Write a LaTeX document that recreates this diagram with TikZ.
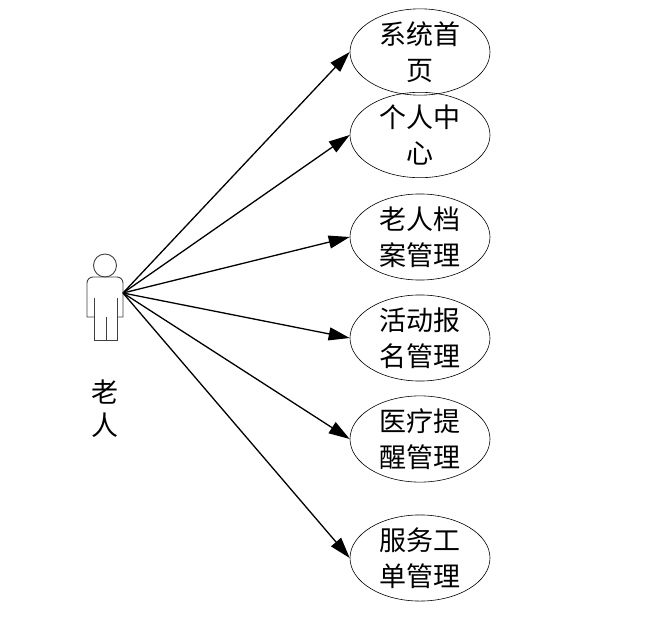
\documentclass[tikz,border=0pt]{standalone}
\usepackage{fontspec}
\newfontfamily\cjk{Noto Sans CJK SC}
\usetikzlibrary{shapes.geometric, arrows.meta, positioning}

\begin{document}
\begin{tikzpicture}[x=1pt, y=-1pt,
    usecase/.style={ellipse, draw, line width=0.6pt, minimum width=140pt, minimum height=72pt,
      inner sep=0pt, align=center, font=\cjk\fontsize{27}{36}\selectfont},
    actorline/.style={line width=0.9pt, black!75},
    assoc/.style={-{Triangle[length=21pt, width=13pt]}, line width=1.3pt}]
  \useasboundingbox (0,0) rectangle (646,626);

  % actor figure
  \draw[actorline] (105,265.5) circle (11.5pt);
  \draw[actorline] (94,317) -- (87,317) -- (87,283) to[out=90, in=180] (93,277)
    -- (117,277) to[out=0, in=90] (123,283) -- (123,317) -- (117,317);
  \draw[actorline] (94,298) -- (94,340) -- (117,340) -- (117,298);
  \draw[actorline] (106,317) -- (106,340);
  \coordinate (oldman) at (123,293);
  \node[font=\cjk\fontsize{27}{33}\selectfont, align=center] (oldlabel) at (105,409) {老\\人};

  % use cases
  \node[usecase, minimum height=78pt] (uc1) at (420,52) {系统首\\页};
  \node[usecase] (uc2) at (420,135) {个人中\\心};
  \node[usecase] (uc3) at (420,237) {老人档\\案管理};
  \node[usecase] (uc4) at (420,338) {活动报\\名管理};
  \node[usecase] (uc5) at (420,439) {医疗提\\醒管理};
  \node[usecase] (uc6) at (420,558) {服务工\\单管理};

  \foreach \i in {1,...,6} {
    \draw[assoc] (oldman) -- (uc\i.west);
  }
\end{tikzpicture}
\end{document}
